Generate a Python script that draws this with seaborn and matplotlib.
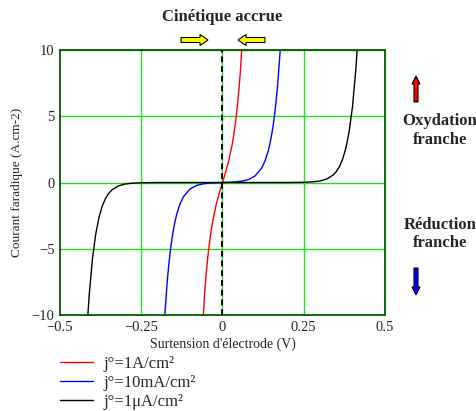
import matplotlib
matplotlib.use("Agg")
import matplotlib.pyplot as plt
import seaborn as sns
import pandas as pd
from matplotlib.patches import FancyArrow

# ---- data ----
red_x = [-0.059, -0.055, -0.05, -0.045, -0.04, -0.035, -0.03, -0.02, -0.01, 0.0,
         0.01, 0.02, 0.03, 0.035, 0.04, 0.045, 0.05, 0.055, 0.059]
red_y = [-10.0, -8.38, -6.85, -5.58, -4.53, -3.65, -2.90, -1.72, -0.80, 0.0,
         0.80, 1.72, 2.90, 3.65, 4.53, 5.58, 6.85, 8.38, 10.0]

blue_x = [-0.1776, -0.17, -0.165, -0.16, -0.155, -0.15, -0.145, -0.14, -0.13, -0.12,
          -0.10, -0.08, -0.06, -0.04, -0.02, 0.0,
          0.02, 0.04, 0.06, 0.08, 0.10, 0.12, 0.13, 0.14, 0.145, 0.15, 0.155,
          0.16, 0.165, 0.17, 0.1776]
blue_y = [-10.0, -7.46, -6.13, -5.06, -4.16, -3.43, -2.82, -2.32, -1.573, -1.066,
          -0.49, -0.225, -0.102, -0.0453, -0.0172, 0.0,
          0.0172, 0.0453, 0.102, 0.225, 0.49, 1.066, 1.573, 2.32, 2.82, 3.43, 4.16,
          5.06, 6.13, 7.46, 10.0]

black_x = [-0.4143, -0.41, -0.40, -0.39, -0.38, -0.37, -0.36, -0.35, -0.34, -0.32,
           -0.30, -0.28, -0.25, -0.20, -0.10, 0.0,
           0.10, 0.20, 0.25, 0.28, 0.30, 0.32, 0.34, 0.35, 0.36, 0.37, 0.38,
           0.39, 0.40, 0.41, 0.4143]
black_y = [-10.0, -8.44, -5.72, -3.88, -2.63, -1.78, -1.207, -0.818, -0.555, -0.255,
           -0.117, -0.0537, -0.0167, -0.0024, 0.0, 0.0,
           0.0, 0.0024, 0.0167, 0.0537, 0.117, 0.255, 0.555, 0.818, 1.207, 1.78, 2.63,
           3.88, 5.72, 8.44, 10.0]

labels = ["j°=1A/cm²", "j°=10mA/cm²", "j°=1μA/cm²"]
colors = ["#ff0000", "#0000ff", "#000000"]
x_ticks = [-0.5, -0.25, 0, 0.25, 0.5]
x_ticklabels = ["\u22120.5", "\u22120.25", "0", "0.25", "0.5"]
y_ticks = [-10, -5, 0, 5, 10]
y_ticklabels = ["\u221210", "\u22125", "0", "5", "10"]

df = pd.concat([
    pd.DataFrame({"x": red_x, "y": red_y, "serie": labels[0]}),
    pd.DataFrame({"x": blue_x, "y": blue_y, "serie": labels[1]}),
    pd.DataFrame({"x": black_x, "y": black_y, "serie": labels[2]}),
], ignore_index=True)

sns.set_style("white")
plt.rcParams["font.family"] = ["Liberation Serif", "DejaVu Serif"]

fig = plt.figure(figsize=(4.77, 4.11), dpi=100)
ax = fig.add_axes([0.1258, 0.2336, 0.6813, 0.6447])

grid_c = "#22dd22"
for gx in x_ticks[1:-1]:
    ax.axvline(gx, color=grid_c, lw=1.0, zorder=0)
for gy in y_ticks[1:]:
    ax.axhline(gy, color=grid_c, lw=1.0, zorder=0)

sns.lineplot(data=df, x="x", y="y", hue="serie", hue_order=labels,
             palette=colors, estimator=None, sort=False, lw=1.0, ax=ax,
             legend=True)

ax.axvline(0, color="black", lw=1.4, ls=(0, (3, 2)), zorder=5)

ax.set_xlim(-0.5, 0.5)
ax.set_ylim(-10, 10)
ax.set_xticks(x_ticks)
ax.set_xticklabels(x_ticklabels)
ax.set_yticks(y_ticks)
ax.set_yticklabels(y_ticklabels)
ax.tick_params(length=0, labelsize=10.5, pad=4)
for s in ax.spines.values():
    s.set_color("#005a00")
    s.set_linewidth(1.3)
ax.set_xlabel("Surtension d'électrode (V)", fontsize=10, labelpad=3)
ax.set_ylabel("Courant faradique (A.cm-2)", fontsize=9.5, labelpad=6)

handles, lbls = ax.get_legend_handles_labels()
ax.legend(handles, lbls, loc="upper left", bbox_to_anchor=(0.111, 0.151),
          bbox_transform=fig.transFigure, frameon=False, fontsize=12,
          handlelength=2.0, handletextpad=0.6, labelspacing=0.2,
          borderaxespad=0)

fig.text(222 / 477, 1 - 17 / 411, "Cinétique accrue", ha="center", va="center",
         fontsize=12, fontweight="bold")
fig.text(440 / 477, 1 - 121 / 411, "Oxydation", ha="center", va="center",
         fontsize=12, fontweight="bold")
fig.text(440 / 477, 1 - 140 / 411, "franche", ha="center", va="center",
         fontsize=12, fontweight="bold")
fig.text(440 / 477, 1 - 225 / 411, "Réduction", ha="center", va="center",
         fontsize=12, fontweight="bold")
fig.text(440 / 477, 1 - 243 / 411, "franche", ha="center", va="center",
         fontsize=12, fontweight="bold")

W, H = 477, 411
def px_arrow(x0, y0, dx, dy, color, width, head_w, head_l):
    fig.patches.append(FancyArrow(x0, H - y0, dx, -dy, width=width,
                                  head_width=head_w, head_length=head_l,
                                  length_includes_head=True, fc=color, ec="black",
                                  lw=0.8, transform=None, figure=fig))

# transform=None -> display (pixel) coords
px_arrow(181, 40, 27, 0, "#ffff00", 5, 11, 8)
px_arrow(265, 40, -27, 0, "#ffff00", 5, 11, 8)
px_arrow(416, 102, 0, -26, "#ff0000", 4, 8, 8)
px_arrow(416, 268, 0, 27, "#0000ff", 4, 8, 8)

fig.savefig("out.png", dpi=100)
